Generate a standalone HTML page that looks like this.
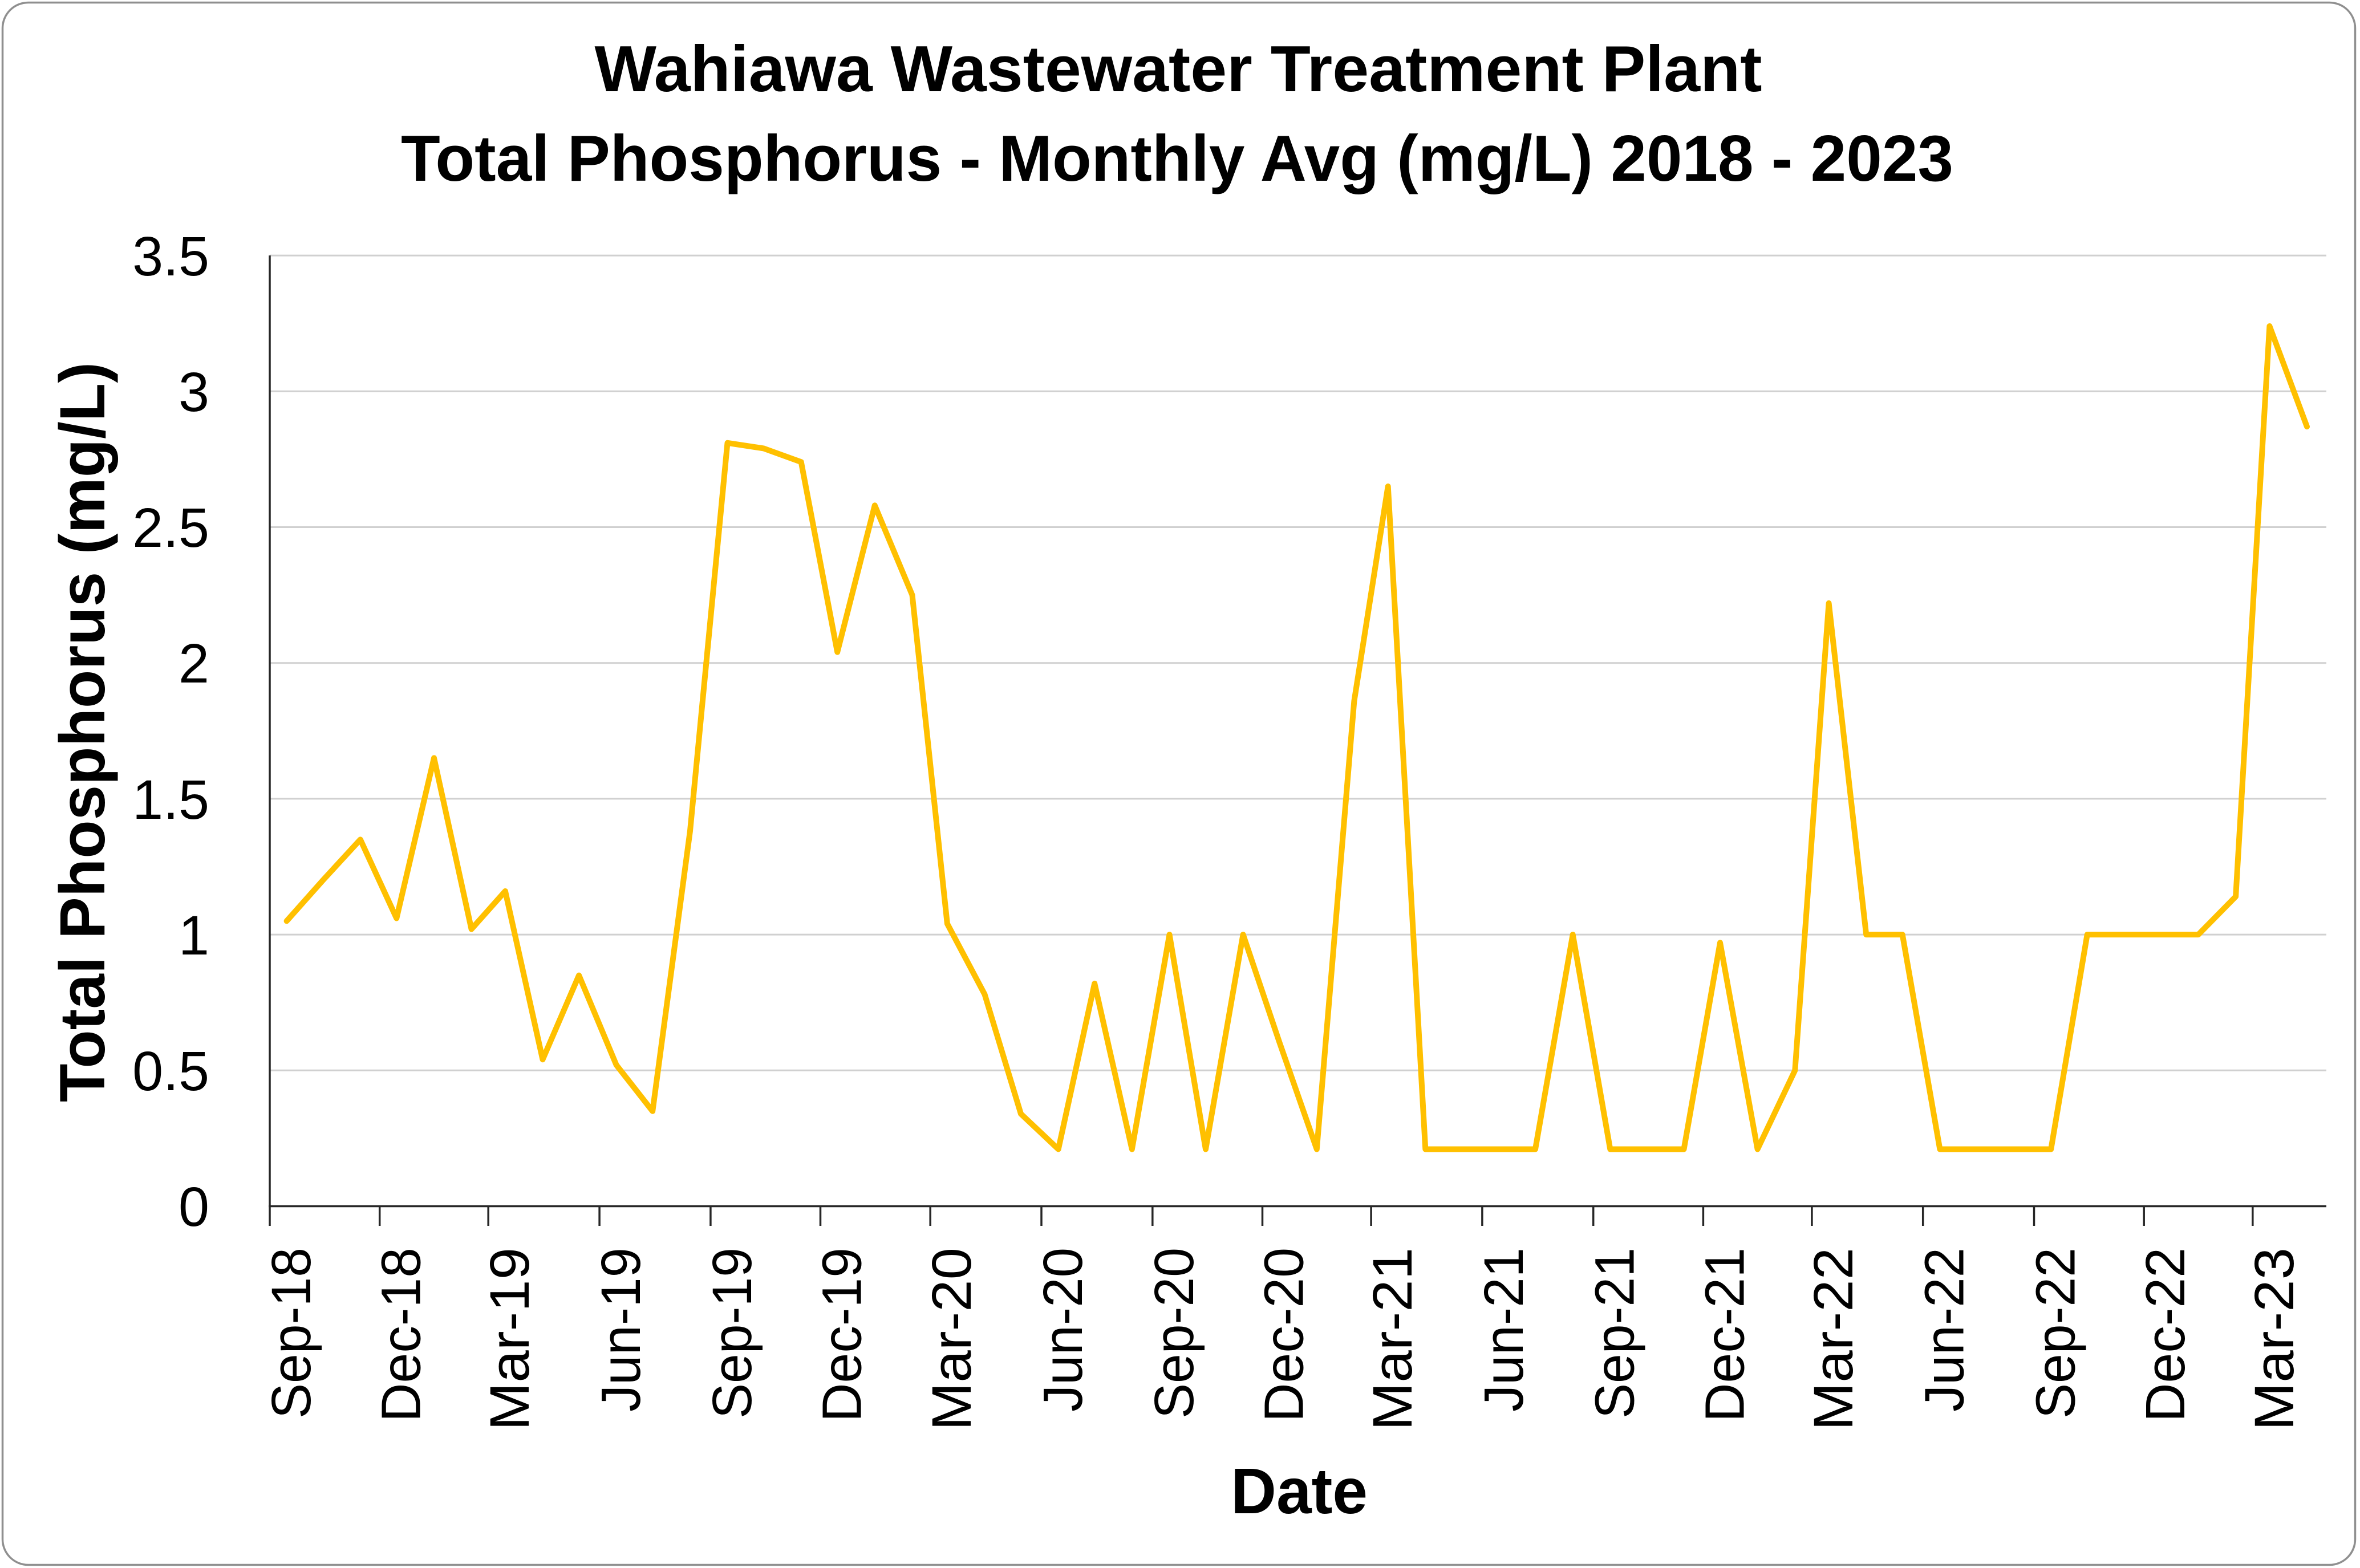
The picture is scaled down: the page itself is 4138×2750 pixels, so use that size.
<!DOCTYPE html>
<html>
<head>
<meta charset="utf-8">
<style>
  html, body { margin: 0; padding: 0; background: #ffffff; }
  svg { display: block; }
  .tk { font-family: "Liberation Sans", Arial, sans-serif; font-size: 97px; fill: #000; }
  .bd { font-family: "Liberation Sans", Arial, sans-serif; font-weight: bold; fill: #000; }
</style>
</head>
<body>
<svg xmlns="http://www.w3.org/2000/svg" width="4138" height="2750" viewBox="0 0 4138 2750">
  <rect x="0" y="0" width="4138" height="2750" fill="#ffffff"/>
  <!-- outer border -->
  <rect x="4.5" y="4.5" width="4125" height="2740" rx="45" ry="45" fill="#ffffff" stroke="#8f8f8f" stroke-width="3.5"/>

  <!-- titles -->
  <text class="bd" x="2066" y="160" font-size="114" text-anchor="middle" textLength="2047" lengthAdjust="spacingAndGlyphs">Wahiawa Wastewater Treatment Plant</text>
  <text class="bd" x="2064" y="317" font-size="114" text-anchor="middle" textLength="2722" lengthAdjust="spacingAndGlyphs">Total Phosphorus - Monthly Avg (mg/L) 2018 - 2023</text>

  <!-- gridlines -->
  <g stroke="#d0d0d0" stroke-width="3">
    <line x1="473" y1="448.1" x2="4079" y2="448.1"/>
    <line x1="473" y1="686.3" x2="4079" y2="686.3"/>
    <line x1="473" y1="924.5" x2="4079" y2="924.5"/>
    <line x1="473" y1="1162.7" x2="4079" y2="1162.7"/>
    <line x1="473" y1="1400.9" x2="4079" y2="1400.9"/>
    <line x1="473" y1="1639.1" x2="4079" y2="1639.1"/>
    <line x1="473" y1="1877.3" x2="4079" y2="1877.3"/>
  </g>

  <!-- axes -->
  <g stroke="#262626" stroke-width="3.5">
    <line x1="473" y1="448" x2="473" y2="2117"/>
    <line x1="471" y1="2115.5" x2="4079" y2="2115.5"/>
    <line x1="473" y1="2115" x2="473" y2="2150"/>
    <line x1="665.7" y1="2115" x2="665.7" y2="2150"/>
    <line x1="856.2" y1="2115" x2="856.2" y2="2150"/>
    <line x1="1051.1" y1="2115" x2="1051.1" y2="2150"/>
    <line x1="1245.9" y1="2115" x2="1245.9" y2="2150"/>
    <line x1="1438.5" y1="2115" x2="1438.5" y2="2150"/>
    <line x1="1631.2" y1="2115" x2="1631.2" y2="2150"/>
    <line x1="1826.0" y1="2115" x2="1826.0" y2="2150"/>
    <line x1="2020.8" y1="2115" x2="2020.8" y2="2150"/>
    <line x1="2213.5" y1="2115" x2="2213.5" y2="2150"/>
    <line x1="2404.1" y1="2115" x2="2404.1" y2="2150"/>
    <line x1="2598.9" y1="2115" x2="2598.9" y2="2150"/>
    <line x1="2793.7" y1="2115" x2="2793.7" y2="2150"/>
    <line x1="2986.4" y1="2115" x2="2986.4" y2="2150"/>
    <line x1="3176.9" y1="2115" x2="3176.9" y2="2150"/>
    <line x1="3371.7" y1="2115" x2="3371.7" y2="2150"/>
    <line x1="3566.5" y1="2115" x2="3566.5" y2="2150"/>
    <line x1="3759.2" y1="2115" x2="3759.2" y2="2150"/>
    <line x1="3949.8" y1="2115" x2="3949.8" y2="2150"/>
  </g>

  <!-- y tick labels -->
  <g class="tk" text-anchor="end">
    <text x="367" y="483">3.5</text>
    <text x="367" y="721">3</text>
    <text x="367" y="959">2.5</text>
    <text x="367" y="1197">2</text>
    <text x="367" y="1436">1.5</text>
    <text x="367" y="1674">1</text>
    <text x="367" y="1912">0.5</text>
    <text x="367" y="2150">0</text>
  </g>

  <!-- x tick labels (rotated) -->
  <g class="tk" text-anchor="end">
    <text transform="translate(544,2188) rotate(-90)" textLength="300" lengthAdjust="spacingAndGlyphs">Sep-18</text>
    <text transform="translate(736.7,2188) rotate(-90)" textLength="306" lengthAdjust="spacingAndGlyphs">Dec-18</text>
    <text transform="translate(927.2,2188) rotate(-90)" textLength="321" lengthAdjust="spacingAndGlyphs">Mar-19</text>
    <text transform="translate(1122.1,2188) rotate(-90)" textLength="288" lengthAdjust="spacingAndGlyphs">Jun-19</text>
    <text transform="translate(1316.9,2188) rotate(-90)" textLength="300" lengthAdjust="spacingAndGlyphs">Sep-19</text>
    <text transform="translate(1509.5,2188) rotate(-90)" textLength="306" lengthAdjust="spacingAndGlyphs">Dec-19</text>
    <text transform="translate(1702.2,2188) rotate(-90)" textLength="321" lengthAdjust="spacingAndGlyphs">Mar-20</text>
    <text transform="translate(1897.0,2188) rotate(-90)" textLength="288" lengthAdjust="spacingAndGlyphs">Jun-20</text>
    <text transform="translate(2091.8,2188) rotate(-90)" textLength="300" lengthAdjust="spacingAndGlyphs">Sep-20</text>
    <text transform="translate(2284.5,2188) rotate(-90)" textLength="306" lengthAdjust="spacingAndGlyphs">Dec-20</text>
    <text transform="translate(2475.1,2188) rotate(-90)" textLength="321" lengthAdjust="spacingAndGlyphs">Mar-21</text>
    <text transform="translate(2669.9,2188) rotate(-90)" textLength="288" lengthAdjust="spacingAndGlyphs">Jun-21</text>
    <text transform="translate(2864.7,2188) rotate(-90)" textLength="300" lengthAdjust="spacingAndGlyphs">Sep-21</text>
    <text transform="translate(3057.4,2188) rotate(-90)" textLength="306" lengthAdjust="spacingAndGlyphs">Dec-21</text>
    <text transform="translate(3247.9,2188) rotate(-90)" textLength="321" lengthAdjust="spacingAndGlyphs">Mar-22</text>
    <text transform="translate(3442.7,2188) rotate(-90)" textLength="288" lengthAdjust="spacingAndGlyphs">Jun-22</text>
    <text transform="translate(3637.5,2188) rotate(-90)" textLength="300" lengthAdjust="spacingAndGlyphs">Sep-22</text>
    <text transform="translate(3830.2,2188) rotate(-90)" textLength="306" lengthAdjust="spacingAndGlyphs">Dec-22</text>
    <text transform="translate(4020.8,2188) rotate(-90)" textLength="321" lengthAdjust="spacingAndGlyphs">Mar-23</text>
  </g>

  <!-- axis titles -->
  <text class="bd" x="2278" y="2654" font-size="113" text-anchor="middle" textLength="240" lengthAdjust="spacingAndGlyphs">Date</text>
  <text class="bd" transform="translate(183,1284) rotate(-90)" font-size="112" text-anchor="middle" textLength="1298" lengthAdjust="spacingAndGlyphs">Total Phosphorus (mg/L)</text>

  <!-- data series -->
  <path fill="none" stroke="#FFC000" stroke-width="10" stroke-linejoin="round" stroke-linecap="round"
    d="M502.6,1615.3 L566.2,1543.8 L631.8,1472.4 L695.3,1610.5 L761.0,1329.4 L826.6,1629.6 L885.9,1562.9 L951.5,1858.2 L1015.1,1710.6 L1080.7,1867.8 L1144.2,1948.8 L1209.9,1458.1 L1275.5,776.8 L1339.0,786.4 L1404.7,810.2 L1468.2,1143.6 L1533.8,886.4 L1599.5,1043.6 L1660.9,1620.0 L1726.5,1743.9 L1790.0,1953.5 L1855.7,2015.5 L1919.2,1724.9 L1984.8,2015.5 L2050.5,1639.1 L2114.0,2015.5 L2179.6,1639.1 L2243.1,1827.3 L2308.8,2015.5 L2374.4,1229.4 L2433.7,853.0 L2499.3,2015.5 L2562.9,2015.5 L2628.5,2015.5 L2692.0,2015.5 L2757.7,1639.1 L2823.3,2015.5 L2886.8,2015.5 L2952.5,2015.5 L3016.0,1653.4 L3081.6,2015.5 L3147.3,1877.3 L3206.6,1057.9 L3272.2,1639.1 L3335.7,1639.1 L3401.4,2015.5 L3464.9,2015.5 L3530.5,2015.5 L3596.2,2015.5 L3659.7,1639.1 L3725.3,1639.1 L3788.9,1639.1 L3854.5,1639.1 L3920.1,1572.4 L3979.4,572.0 L4045.0,748.2"/>
</svg>
</body>
</html>
